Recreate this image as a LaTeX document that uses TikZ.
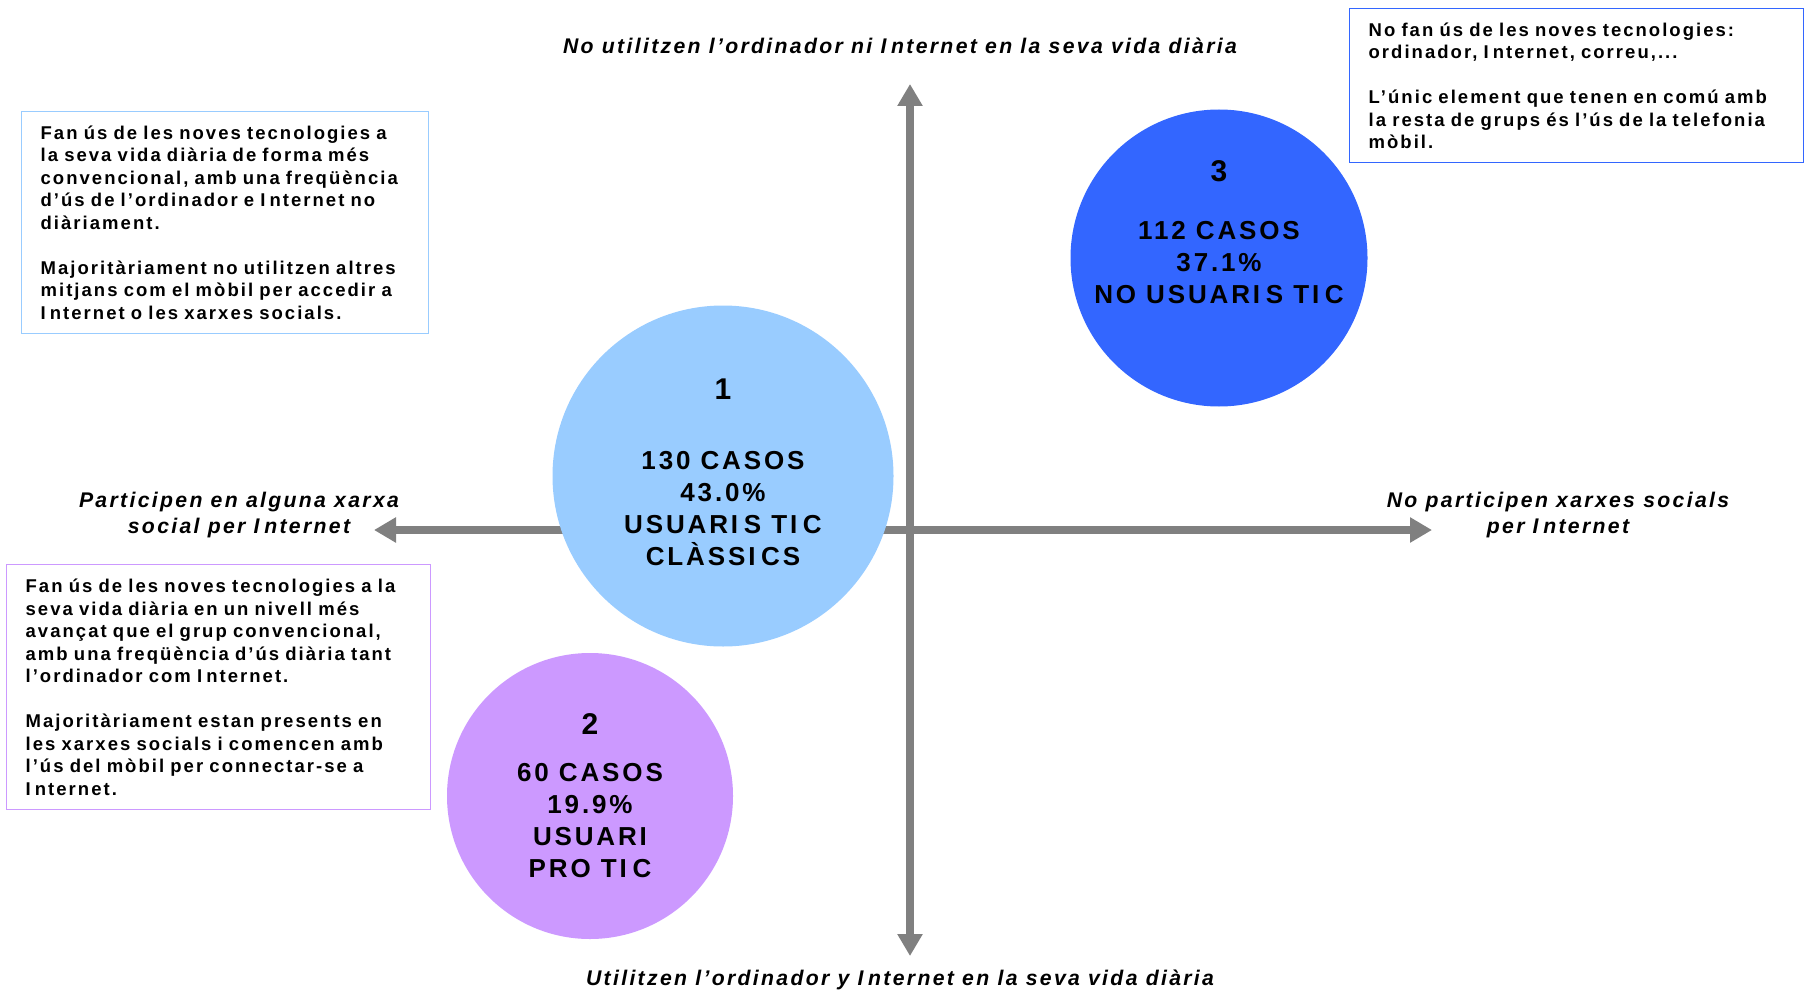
\documentclass[tikz,border=0pt]{standalone}
\usepackage{fontspec}
\setmainfont{Liberation Sans}
\newfontfamily\lsfont{Liberation Sans}[LetterSpace=11]
\usetikzlibrary{arrows.meta}
\definecolor{axisgray}{HTML}{808080}
\definecolor{cone}{HTML}{99CCFF}
\definecolor{ctwo}{HTML}{CC99FF}
\definecolor{cthree}{HTML}{3366FF}
\newcommand{\Igap}{I\kern0.22em }
\begin{document}
\begin{tikzpicture}[x=1pt,y=-1pt,
  axisline/.style={draw=axisgray, line width=8pt,
    {Triangle[width=24pt,length=22pt]}-{Triangle[width=24pt,length=22pt]}},
  bubble/.style={circle, inner sep=0pt},
  bubbletext/.style={align=center, inner sep=0pt,
    font=\lsfont\bfseries\fontsize{26}{32}\selectfont},
  infobox/.style={draw, line width=1.3pt, anchor=north west, align=left,
    inner xsep=19pt, inner ysep=0pt,
    font=\lsfont\bfseries\fontsize{18.5}{22.5}\selectfont},
  axislabel/.style={align=center, inner sep=0pt,
    font=\lsfont\bfseries\itshape\fontsize{21.2}{26}\selectfont}
  ]
\useasboundingbox (0,0) rectangle (1806,995);
\fill[white] (0,0) rectangle (1806,995);

% axes
\coordinate (vtop) at (910,84);
\coordinate (vbot) at (910,956);
\coordinate (hleft) at (374,530);
\coordinate (hright) at (1432,530);
\draw[axisline] (vtop) -- (vbot);
\draw[axisline] (hleft) -- (hright);

% circles
\node[bubble, fill=cone, minimum size=341pt] (c1) at (723,476) {};
\node[bubble, fill=ctwo, minimum size=286pt] (c2) at (590,796) {};
\node[bubble, fill=cthree, minimum size=297pt] (c3) at (1219,258) {};

\node[bubbletext] (t1) at (723,472) {{\fontsize{30}{32}\selectfont 1}\\[38pt]130 CASOS\\43.0\%\\USUAR\Igap S T\Igap C\\CLÀSS\Igap CS};
\node[bubbletext] (t2) at (590,796) {{\fontsize{30}{32}\selectfont 2}\\[15pt]60 CASOS\\19.9\%\\USUARI\\PRO T\Igap C};
\node[bubbletext] (t3) at (1219,232) {{\fontsize{30}{32}\selectfont 3}\\[26pt]112 CASOS\\37.1\%\\NO USUAR\Igap S T\Igap C};

% info boxes
\node[infobox, draw=cone, text width=369pt, minimum height=222pt] (b1) at (21,111)
 {Fan ús de les noves tecnologies a\\la seva vida diària de forma més\\convencional, amb una freqüència\\d’ús de l’ordinador e \Igap nternet no\\diàriament.\\[22.5pt]Majoritàriament no utilitzen altres\\mitjans com el mòbil per accedir a\\\Igap nternet o les xarxes socials.};
\node[infobox, draw=ctwo, text width=386pt, minimum height=245pt] (b2) at (6,564)
 {Fan ús de les noves tecnologies a la\\seva vida diària en un nivell més\\avançat que el grup convencional,\\amb una freqüència d’ús diària tant\\l’ordinador com \Igap nternet.\\[22.5pt]Majoritàriament estan presents en\\les xarxes socials i comencen amb\\l’ús del mòbil per connectar-se a\\\Igap nternet.};
\node[infobox, draw=cthree, text width=416pt, minimum height=154pt] (b3) at (1349,8)
 {No fan ús de les noves tecnologies:\\ordinador, \Igap nternet, correu,...\\[22.5pt]L’únic element que tenen en comú amb\\la resta de grups és l’ús de la telefonia\\mòbil.};

% axis labels
\node[axislabel] (ltop) at (900,46) {No utilitzen l’ordinador ni \Igap nternet en la seva vida diària};
\node[axislabel] (lbot) at (900,980) {Utilitzen l’ordinador y \Igap nternet en la seva vida diària};
\node[axislabel] (lleft) at (239,515) {Participen en alguna xarxa\\social per \Igap nternet};
\node[axislabel] (lright) at (1558,515) {No participen xarxes socials\\per \Igap nternet};
\end{tikzpicture}
\end{document}
